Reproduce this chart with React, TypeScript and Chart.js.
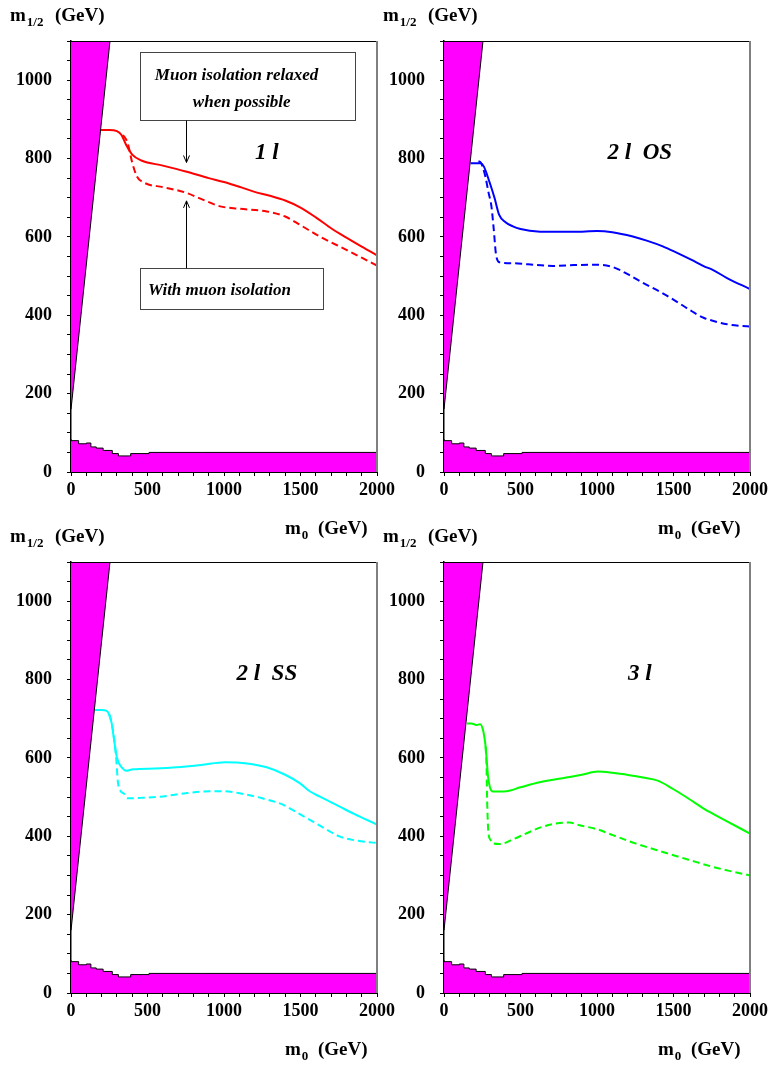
import React, { useEffect, useRef } from "react";
import { Chart, registerables } from "chart.js";
Chart.register(...registerables);

const FONT = '"Liberation Serif", "Times New Roman", serif';

// axis tick labels
const M0_TICK_LABELS = [0, 500, 1000, 1500, 2000];
const M12_TICK_LABELS = [0, 200, 400, 600, 800, 1000];

// theoretically excluded regions (magenta)
const theoryWedge = [[0, 160], [255, 1100]];
const lepLimitM0 = [0, 50, 100, 130, 165, 210, 270, 310, 390, 510, 850, 2000];
const lepLimitM12 = [84, 80, 72, 74, 64, 61, 55, 47, 41, 47, 50, 50];

// 1 lepton
const oneLepRelaxed = [[196, 873], [250, 873], [300, 870], [330, 860], [360, 835], [400, 810], [460, 795], [600, 782], [750, 767], [900, 750], [1000, 740], [1100, 728], [1200, 715], [1300, 705], [1400, 693], [1500, 675], [1600, 650], [1700, 622], [1800, 598], [1900, 575], [2000, 553]];
const oneLepIsolated = [[340, 860], [370, 840], [400, 790], [430, 755], [480, 738], [600, 727], [750, 713], [850, 697], [975, 678], [1100, 672], [1280, 665], [1400, 652], [1500, 630], [1630, 600], [1800, 567], [1900, 547], [2000, 527]];

// 2 leptons opposite sign
const twoLepOSRelaxed = [[174, 788], [200, 788], [240, 788], [260, 780], [300, 737], [330, 700], [360, 657], [400, 638], [450, 627], [500, 620], [560, 616], [700, 613], [850, 613], [1000, 615], [1100, 612], [1234, 601], [1330, 590], [1430, 576], [1520, 560], [1615, 542], [1700, 525], [1756, 516], [1850, 495], [2000, 467]];
const twoLepOSIsolated = [[225, 793], [240, 790], [270, 755], [290, 715], [310, 678], [325, 620], [340, 555], [365, 535], [450, 533], [550, 530], [712, 526], [850, 528], [995, 529], [1103, 523], [1200, 505], [1300, 483], [1430, 456], [1520, 435], [1604, 414], [1700, 393], [1756, 386], [1850, 377], [2000, 371]];

// 2 leptons same sign
const twoLepSSRelaxed = [[157, 722], [200, 722], [233, 720], [250, 710], [266, 688], [280, 650], [299, 603], [315, 585], [331, 576], [359, 567], [407, 571], [550, 573], [691, 576], [850, 582], [1007, 589], [1150, 586], [1279, 576], [1400, 557], [1497, 535], [1560, 515], [1627, 501], [1750, 477], [1850, 457], [2000, 430]];
const twoLepSSIsolated = [[250, 712], [265, 690], [280, 655], [295, 600], [307, 537], [325, 515], [346, 509], [366, 497], [450, 498], [582, 501], [750, 510], [930, 515], [1000, 515], [1126, 508], [1250, 497], [1388, 480], [1480, 460], [1584, 437], [1680, 415], [1758, 399], [1850, 390], [2000, 383]];

// 3 leptons
const threeLepRelaxed = [[150, 688], [180, 688], [211, 684], [237, 686], [255, 671], [265, 650], [272, 629], [280, 590], [288, 552], [300, 525], [320, 514], [407, 515], [500, 525], [625, 538], [799, 550], [900, 557], [1005, 565], [1100, 562], [1212, 556], [1300, 550], [1397, 542], [1500, 520], [1615, 492], [1700, 470], [1756, 458], [1850, 438], [2000, 407]];
const threeLepIsolated = [[272, 629], [278, 580], [281, 509], [285, 450], [290, 410], [305, 390], [320, 382], [364, 380], [450, 392], [559, 411], [650, 425], [755, 434], [820, 435], [886, 428], [1000, 418], [1103, 403], [1250, 382], [1430, 360], [1600, 340], [1756, 322], [1850, 313], [2000, 300]];

const PANEL_LABEL_POS = [1280, 813];

const CANVAS_W = 400;
const CANVAS_H = 546;

type Pt = number[];
const toXY = (arr: Pt[]) => arr.map((p) => ({ x: p[0], y: p[1] }));

const panels = [
  { left: -1, top: 0, label: "1 l", color: "#ff0000", relaxed: oneLepRelaxed, isolated: oneLepIsolated, notes: true },
  { left: 372, top: 0, label: "2 l  OS", color: "#0000ff", relaxed: twoLepOSRelaxed, isolated: twoLepOSIsolated, notes: false },
  { left: -1, top: 521, label: "2 l  SS", color: "#00ffff", relaxed: twoLepSSRelaxed, isolated: twoLepSSIsolated, notes: false },
  { left: 372, top: 521, label: "3 l", color: "#00ff00", relaxed: threeLepRelaxed, isolated: threeLepIsolated, notes: false },
];

function drawTitle(ctx: CanvasRenderingContext2D, x: number, y: number, sub: string, unitDx: number) {
  ctx.fillStyle = "#000";
  ctx.textAlign = "left";
  ctx.textBaseline = "alphabetic";
  ctx.font = `bold 19px ${FONT}`;
  ctx.fillText("m", x, y);
  const w = ctx.measureText("m").width;
  ctx.font = `bold 13px ${FONT}`;
  ctx.fillText(sub, x + w + 1, y + 5);
  ctx.font = `bold 19px ${FONT}`;
  ctx.fillText("(GeV)", x + unitDx, y);
}

function arrow(ctx: CanvasRenderingContext2D, x: number, y0: number, y1: number) {
  ctx.beginPath();
  ctx.moveTo(x, y0);
  ctx.lineTo(x, y1);
  const d = y1 > y0 ? -1 : 1;
  ctx.moveTo(x - 3, y1 + d * 7);
  ctx.lineTo(x, y1);
  ctx.lineTo(x + 3, y1 + d * 7);
  ctx.stroke();
}

const decorPlugin = {
  id: "decor",
  afterDatasetsDraw(chart: any, _args: any, opts: any) {
    const { ctx, chartArea: a, scales } = chart;
    const xs = scales.x;
    const ys = scales.y;
    ctx.save();
    // frame top & right
    ctx.strokeStyle = "#000";
    ctx.lineWidth = 1;
    ctx.beginPath();
    ctx.moveTo(a.left, a.top + 0.5);
    ctx.lineTo(a.right, a.top + 0.5);
    ctx.stroke();
    ctx.strokeStyle = "#808080";
    ctx.lineWidth = 2;
    ctx.beginPath();
    ctx.moveTo(a.right, a.top);
    ctx.lineTo(a.right, a.bottom);
    ctx.stroke();

    // panel label
    ctx.fillStyle = "#000";
    ctx.font = `italic bold 23px ${FONT}`;
    ctx.textAlign = "center";
    ctx.textBaseline = "middle";
    ctx.fillText(opts.label, xs.getPixelForValue(PANEL_LABEL_POS[0]), ys.getPixelForValue(PANEL_LABEL_POS[1]));

    if (opts.notes) {
      const px = (v: number) => xs.getPixelForValue(v);
      const py = (v: number) => ys.getPixelForValue(v);
      ctx.strokeStyle = "#444";
      ctx.lineWidth = 1;
      ctx.fillStyle = "#fff";
      // box 1
      const b1 = [px(450), py(1071), px(1858), py(897)];
      ctx.fillRect(b1[0], b1[1], b1[2] - b1[0], b1[3] - b1[1]);
      ctx.strokeRect(Math.round(b1[0]) + 0.5, Math.round(b1[1]) + 0.5, Math.round(b1[2] - b1[0]), Math.round(b1[3] - b1[1]));
      // box 2
      const b2 = [px(450), py(520), px(1649), py(416)];
      ctx.fillRect(b2[0], b2[1], b2[2] - b2[0], b2[3] - b2[1]);
      ctx.strokeRect(Math.round(b2[0]) + 0.5, Math.round(b2[1]) + 0.5, Math.round(b2[2] - b2[0]), Math.round(b2[3] - b2[1]));
      // arrows
      ctx.strokeStyle = "#000";
      const ax = Math.round(px(750)) + 0.5;
      arrow(ctx, ax, b1[3], py(790));
      arrow(ctx, ax, b2[1], py(692));
      // texts
      ctx.fillStyle = "#000";
      ctx.font = `italic bold 17px ${FONT}`;
      ctx.textAlign = "center";
      ctx.textBaseline = "middle";
      ctx.fillText("Muon isolation relaxed", px(1082), py(1011));
      ctx.fillText("when possible", px(1116), py(943));
      ctx.fillText("With muon isolation", px(970), py(463));
    }
    ctx.restore();
  },
  afterDraw(chart: any) {
    const { ctx, chartArea: a } = chart;
    ctx.save();
    drawTitle(ctx, a.left - 61, a.top - 20, "1/2", 45);
    drawTitle(ctx, a.left + 214, a.bottom + 62, "0", 33);
    ctx.restore();
  },
};

function Panel({ cfg }: { cfg: any }) {
  const ref = useRef<HTMLCanvasElement | null>(null);
  useEffect(() => {
    if (!ref.current) return;
    const chart = new Chart(ref.current, {
      type: "line",
      data: {
        datasets: [
          {
            label: "theory",
            data: toXY(theoryWedge),
            borderColor: "#000",
            borderWidth: 1,
            backgroundColor: "#ff00ff",
            fill: "end",
            pointRadius: 0,
            tension: 0,
            order: 3,
          },
          {
            label: "LEP",
            data: lepLimitM0.map((x, i) => ({ x, y: lepLimitM12[i] })),
            borderColor: "#000",
            borderWidth: 1,
            backgroundColor: "#ff00ff",
            fill: "origin",
            stepped: "after",
            pointRadius: 0,
            order: 3,
          },
          {
            label: "isolated",
            data: toXY(cfg.isolated),
            borderColor: cfg.color,
            borderWidth: 2,
            borderDash: [7, 4],
            fill: false,
            pointRadius: 0,
            tension: 0.4,
            cubicInterpolationMode: "monotone",
            order: 1,
          },
          {
            label: "relaxed",
            data: toXY(cfg.relaxed),
            borderColor: cfg.color,
            borderWidth: 2,
            fill: false,
            pointRadius: 0,
            tension: 0.4,
            cubicInterpolationMode: "monotone",
            order: 1,
          },
        ],
      } as any,
      options: {
        animation: false,
        responsive: false,
        maintainAspectRatio: false,
        devicePixelRatio: 1,
        layout: { padding: { left: 0, top: 41, right: CANVAS_W - 72 - 306, bottom: CANVAS_H - 41 - 431 - 40 } },
        plugins: {
          legend: { display: false },
          tooltip: { enabled: false },
          decor: { label: cfg.label, notes: cfg.notes },
        } as any,
        scales: {
          x: {
            type: "linear",
            min: 0,
            max: 2000,
            afterFit: (s: any) => {
              s.height = 40;
            },
            ticks: {
              stepSize: 100,
              autoSkip: false,
              maxRotation: 0,
              minRotation: 0,
              padding: 4,
              color: "#000",
              font: { family: FONT, size: 18, weight: "bold" },
              callback: (v: any) => (M0_TICK_LABELS.includes(Number(v)) ? String(v) : ""),
            },
            grid: { drawOnChartArea: false, drawTicks: true, tickLength: 4, color: "#000" },
            border: { display: true, color: "#000", width: 2 },
          },
          y: {
            type: "linear",
            min: 0,
            max: 1100,
            afterFit: (s: any) => {
              s.width = 72;
            },
            ticks: {
              stepSize: 50,
              autoSkip: false,
              padding: 15,
              color: "#000",
              font: { family: FONT, size: 18, weight: "bold" },
              callback: (v: any) => (M12_TICK_LABELS.includes(Number(v)) ? String(v) : ""),
            },
            grid: { drawOnChartArea: false, drawTicks: true, tickLength: 4, color: "#000" },
            border: { display: true, color: "#000", width: 1.5 },
          },
        },
      } as any,
      plugins: [decorPlugin as any],
    });
    return () => chart.destroy();
  }, [cfg]);
  return (
    <canvas
      ref={ref}
      width={CANVAS_W}
      height={CANVAS_H}
      style={{ position: "absolute", left: cfg.left, top: cfg.top, width: CANVAS_W, height: CANVAS_H }}
    />
  );
}

export default function App() {
  return (
    <div style={{ position: "fixed", left: 0, top: 0, width: 772, height: 1068, background: "#fff", overflow: "hidden" }}>
      {panels.map((p, i) => (
        <Panel key={i} cfg={p} />
      ))}
    </div>
  );
}
